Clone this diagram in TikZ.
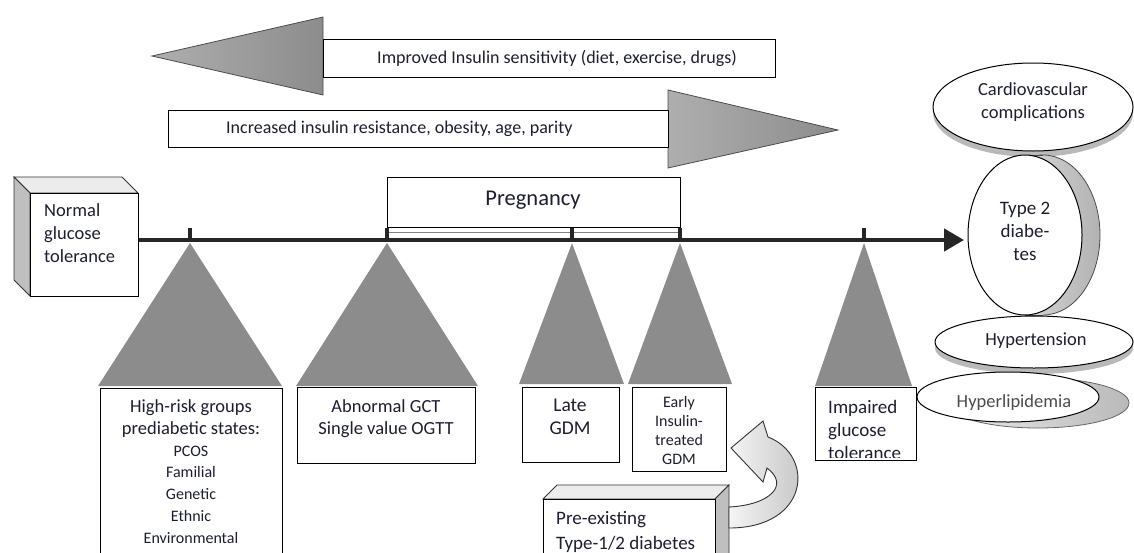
\documentclass[tikz,border=0pt]{standalone}
\usepackage{fontspec}
\setmainfont{Carlito}
\usetikzlibrary{shapes.geometric,arrows.meta}
\definecolor{txt}{HTML}{1E1E32}
\definecolor{trigray}{HTML}{8C8C8C}
\begin{document}
\begin{tikzpicture}[x=1pt,y=-1pt,
  box/.style={draw=black, line width=1.1pt, fill=white, inner sep=0pt, anchor=north west},
  lbl/.style={text=txt, inner sep=0pt, align=center},
  lbll/.style={text=txt, inner sep=0pt, align=left, anchor=north west},
  tri/.style={fill=trigray},
  bigarrow/.style={draw=black!70, line width=0.8pt, left color=trigray!70, right color=trigray},
  ell/.style={draw=black, line width=1pt, fill=white},
  tick/.style={line width=4pt, draw=black!85}]
\useasboundingbox (0,0) rectangle (1134,552);

% ---- top arrows
\draw[bigarrow] (323,39) -- (323,17) -- (152,56) -- (323,95) -- (323,77) -- cycle;
\node[box, minimum width=452pt, minimum height=38pt] (imp) at (323,39) {};
\node[lbl, font=\fontsize{18pt}{21pt}\selectfont] (impt) at (557,58) {Improved Insulin sensitivity (diet, exercise, drugs)};

\draw[bigarrow] (668,110) -- (668,90) -- (838,130) -- (668,168) -- (668,147) -- cycle;
\node[box, minimum width=500pt, minimum height=37pt] (inc) at (168,110) {};
\node[lbl, anchor=west, font=\fontsize{18pt}{21pt}\selectfont] (inct) at (226,129) {Increased insulin resistance, obesity, age, parity};

% ---- normal glucose tolerance 3D box
\draw[draw=black!80, line width=0.8pt, fill=gray!15] (30,193) -- (14,177) -- (122,177) -- (138,193) -- cycle;
\draw[draw=black!80, line width=0.8pt, fill=gray!50] (14,177) -- (30,193) -- (30,296) -- (14,280) -- cycle;
\node[box, minimum width=108pt, minimum height=103pt] (nor) at (30,193) {};
\node[lbll, font=\fontsize{18.5pt}{23pt}\selectfont] (nort) at (44,203) {Normal\\glucose\\tolerance};

% ---- pregnancy
\node[box, minimum width=293pt, minimum height=50pt] (preg) at (387,177) {};
\node[lbl, font=\fontsize{22.5pt}{26pt}\selectfont] (pregt) at (533,200) {Pregnancy};
\draw[gray, line width=0.8pt] (387,232) -- (680,232);

% ---- timeline
\coordinate (tip) at (964,240);
\draw[line width=4.5pt, draw=black!85, -{Triangle[length=20pt,width=22pt]}] (nor.east |- tip) -- (tip);
\foreach \n/\x in {k1/190,k2/387,k3/572,k4/680,k5/864}{
  \coordinate (\n) at (\x,240);
  \draw[tick] (\x,228) -- (\n);
}

% ---- triangles
\fill[tri] ([yshift=-3pt]k1) -- (282,386) -- (98,386) -- cycle;
\fill[tri] ([yshift=-3pt]k2) -- (478,386) -- (296,386) -- cycle;
\fill[tri] ([yshift=-3pt]k3) -- (624,384) -- (519,384) -- cycle;
\fill[tri] ([yshift=-3pt]k4) -- (732,384) -- (628,384) -- cycle;
\fill[tri] ([yshift=-3pt]k5) -- (912,386) -- (815,386) -- cycle;

% ---- lower boxes
\node[box, minimum width=182pt, minimum height=180pt] (hr) at (100,388) {};
\node[lbl, anchor=north, font=\fontsize{16pt}{21.8pt}\selectfont] (hrt) at (191,399.5)
  {{\fontsize{18.5pt}{21.8pt}\selectfont High-risk groups}\\{\fontsize{18.5pt}{21.8pt}\selectfont prediabetic states:}\\PCOS\\Familial\\Genetic\\Ethnic\\Environmental};

\node[box, minimum width=178pt, minimum height=76pt] (gct) at (297,387) {};
\node[lbl, anchor=north, font=\fontsize{18.5pt}{22pt}\selectfont] (gctt) at (386,399) {Abnormal GCT\\Single value OGTT};

\node[box, minimum width=97pt, minimum height=75pt] (late) at (522,387) {};
\node[lbl, anchor=north, font=\fontsize{19.5pt}{23pt}\selectfont] (latet) at (570,399) {Late\\GDM};

\node[box, minimum width=94pt, minimum height=84pt] (early) at (632,387) {};
\node[lbl, anchor=north, font=\fontsize{16pt}{19pt}\selectfont] (earlyt) at (679,396.5) {Early\\Insulin-\\treated\\GDM};

\node[box, minimum width=101pt, minimum height=73pt] (igt) at (815,387) {};
\begin{scope}
\clip (816,388) rectangle (915,457);
\node[lbll, font=\fontsize{19pt}{23pt}\selectfont] (igtt) at (828,400) {Impaired\\glucose\\tolerance};
\end{scope}

% ---- pre-existing 3D box
\draw[draw=black!80, line width=0.8pt, fill=gray!15] (543,499) -- (557,485) -- (729,485) -- (715,499) -- cycle;
\draw[draw=black!80, line width=0.8pt, fill=gray!50] (715,499) -- (729,485) -- (729,560) -- (715,560) -- cycle;
\node[box, minimum width=172pt, minimum height=70pt] (pre) at (543,499) {};
\node[lbll, font=\fontsize{19pt}{25pt}\selectfont] (pret) at (556,511) {Pre-existing\\Type-1/2 diabetes};

% ---- curved arrow from pre-existing to early
\draw[draw=black!80, line width=0.9pt, left color=gray!8, right color=gray!50]
  (729,507) .. controls (770,505) and (790,485) .. (767,468)
  -- (763,482) -- (731,448) -- (763,421) -- (768,437)
  .. controls (815,455) and (810,528) .. (729,528) -- cycle;

% ---- right ellipses
\fill[gray!55] (1033,113) ellipse [x radius=100, y radius=44];
\node[ell, ellipse, minimum width=200pt, minimum height=88pt, inner sep=0pt] (cv) at (1033,107) {};
\node[lbl, font=\fontsize{18.5pt}{23pt}\selectfont] (cvt) at (1033,102) {Cardiovascular\\complications};

\draw[draw=black!70, line width=0.8pt, left color=gray!20, right color=gray!60] (1043,235) ellipse [x radius=57, y radius=80];
\fill[gray!35] (1025,155) rectangle (1043,315);
\draw[black!70, line width=0.8pt] (1025,155) -- (1043,155) (1025,315) -- (1043,315);
\node[ell, ellipse, minimum width=114pt, minimum height=160pt, inner sep=0pt] (t2) at (1025,235) {};
\node[lbl, font=\fontsize{19pt}{23pt}\selectfont] (t2t) at (1025,231) {Type 2\\diabe-\\tes};

\fill[gray!55] (1034,348) ellipse [x radius=99, y radius=26];
\node[ell, ellipse, minimum width=198pt, minimum height=52pt, inner sep=0pt] (ht) at (1034,342) {};
\node[lbl, font=\fontsize{18.5pt}{20pt}\selectfont] (htt) at (1036,341) {Hypertension};

\draw[draw=black!60, line width=0.8pt, left color=gray!15, right color=gray!55] (1038,403) ellipse [x radius=91, y radius=25];
\node[ell, ellipse, minimum width=182pt, minimum height=50pt, inner sep=0pt] (hl) at (1008,397) {};
\node[lbl, text=black!70, font=\fontsize{18.5pt}{20pt}\selectfont] (hlt) at (1014,403) {Hyperlipidemia};
\end{tikzpicture}
\end{document}
